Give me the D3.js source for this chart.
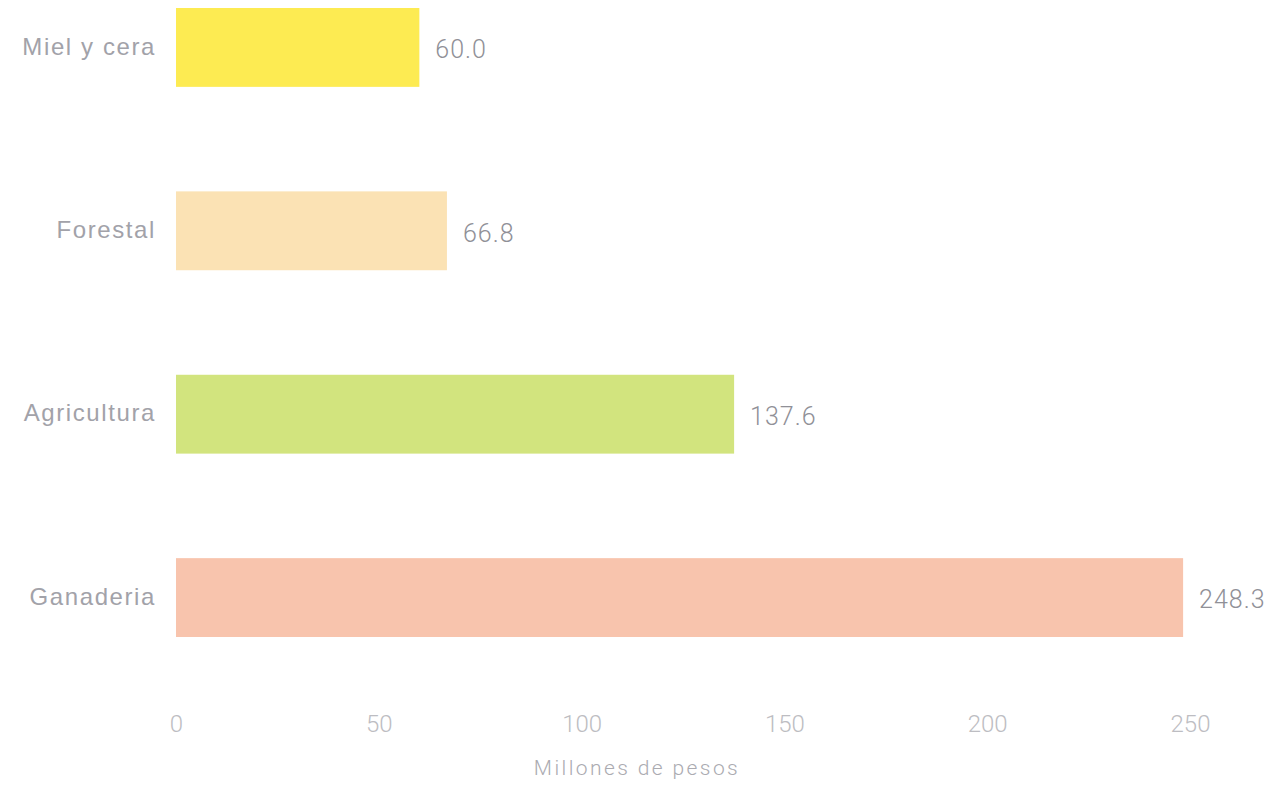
<!DOCTYPE html>
<html><head><meta charset="utf-8">
<script src="https://cdn.jsdelivr.net/npm/d3@7"></script>
<style>body{margin:0;background:#fff;}svg{display:block;}</style>
</head><body>
<script>
const categories = ["Miel y cera", "Forestal", "Agricultura", "Ganaderia"];
const values = [60.0, 66.8, 137.6, 248.3];
const colors = ["#fdeb52", "#fbe2b4", "#d2e47e", "#f8c4ad"];
const tickValues = [0, 50, 100, 150, 200, 250];
const axisTitle = "Millones de pesos";

const W = 1276, H = 787;
const svg = d3.select("body").append("svg").attr("width", W).attr("height", H);

const x = d3.scaleLinear().domain([0, 250]).range([176, 1190]);
const y = d3.scaleBand().domain(categories).range([8, 637]).paddingInner(0.57).paddingOuter(0);

svg.selectAll("rect.bar").data(categories).join("rect")
  .attr("class", "bar")
  .attr("x", x(0))
  .attr("y", d => y(d))
  .attr("width", (d, i) => x(values[i]) - x(0))
  .attr("height", y.bandwidth())
  .attr("fill", (d, i) => colors[i]);

// category labels
svg.selectAll("text.cat").data(categories).join("text")
  .attr("class", "cat")
  .attr("x", 156)
  .attr("y", d => y(d) + y.bandwidth() / 2)
  .attr("dy", "0.3em")
  .attr("text-anchor", "end")
  .attr("font-family", "Liberation Sans, Arial, sans-serif")
  .attr("font-size", 24)
  .attr("letter-spacing", "1.6px")
  .attr("fill", "#a2a2a9")
  .text(d => d);

// value labels
svg.selectAll("text.val").data(categories).join("text")
  .attr("class", "val")
  .attr("x", (d, i) => x(values[i]) + 16)
  .attr("y", d => y(d) + y.bandwidth() / 2 + 2)
  .attr("dy", "0.35em")
  .attr("font-family", "Roboto, sans-serif")
  .attr("font-weight", 300)
  .attr("font-size", 25)
  .attr("letter-spacing", "1px")
  .attr("fill", "#909097")
  .text((d, i) => values[i].toFixed(1));

// x axis
const axis = d3.axisBottom(x).tickValues(tickValues).tickSize(0).tickPadding(0);
const g = svg.append("g").attr("transform", "translate(0,715)").call(axis);
g.select(".domain").remove();
g.selectAll("text")
  .attr("font-family", "Roboto, sans-serif")
  .attr("font-weight", 300)
  .attr("font-size", 24)
  .attr("fill", "#bdbdc2");

svg.append("text")
  .attr("x", 637).attr("y", 775)
  .attr("text-anchor", "middle")
  .attr("font-family", "Roboto, sans-serif")
  .attr("font-weight", 300)
  .attr("font-size", 21)
  .attr("letter-spacing", "2.4px")
  .attr("fill", "#ababb1")
  .text(axisTitle);
</script>
</body></html>
